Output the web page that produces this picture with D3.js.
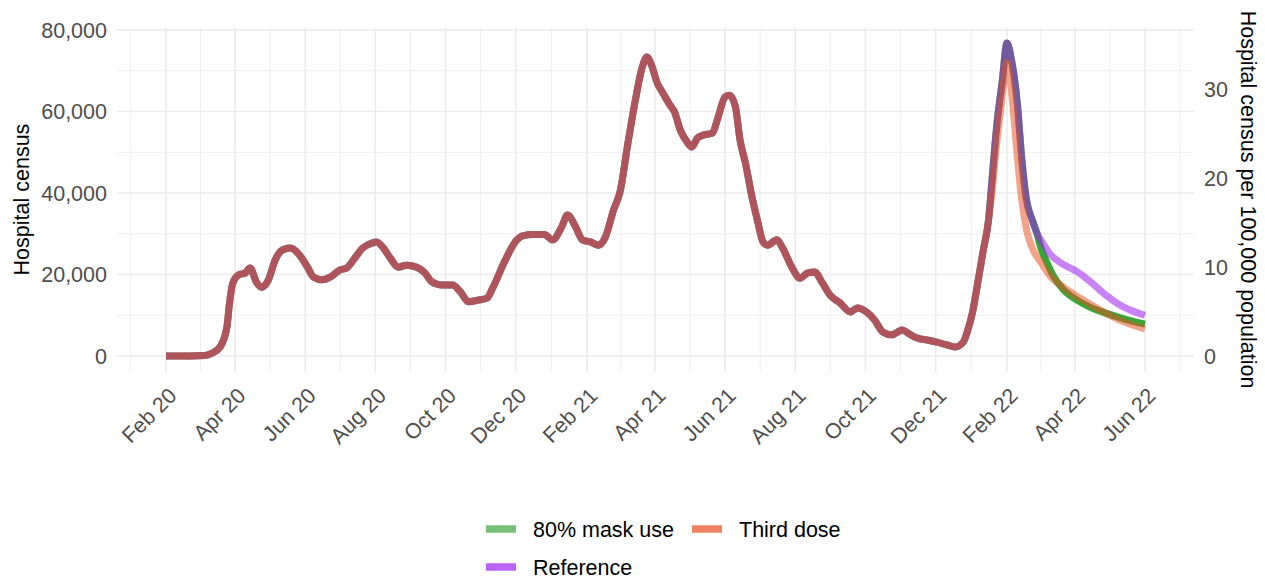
<!DOCTYPE html>
<html>
<head>
<meta charset="utf-8">
<script src="https://cdn.jsdelivr.net/npm/d3@7"></script>
<style>
  body { margin: 0; background: #fff; }
  text { font-family: "Liberation Sans", Arial, sans-serif; }
</style>
</head>
<body>
<svg id="chart" width="1265" height="581"></svg>
<script>
// observed hospital census (shared by every scenario)
const historyDates = ["2020-02-01","2020-02-22","2020-03-06","2020-03-12","2020-03-19","2020-03-25","2020-03-27","2020-03-30",
  "2020-04-04","2020-04-10","2020-04-14","2020-04-20","2020-04-24","2020-04-30","2020-05-06","2020-05-12","2020-05-19","2020-05-27",
  "2020-06-03","2020-06-08","2020-06-16","2020-06-23","2020-07-01","2020-07-07","2020-07-14","2020-07-21","2020-07-29","2020-08-02",
  "2020-08-08","2020-08-14","2020-08-21","2020-08-28","2020-09-06","2020-09-13","2020-09-19","2020-09-28","2020-10-07","2020-10-14",
  "2020-10-21","2020-10-29","2020-11-06","2020-11-11","2020-11-22","2020-12-02","2020-12-07","2020-12-16","2020-12-26","2021-01-02",
  "2021-01-10","2021-01-15","2021-01-22","2021-01-28","2021-02-04","2021-02-11","2021-02-17","2021-02-24","2021-03-02","2021-03-08",
  "2021-03-15","2021-03-21","2021-03-25","2021-03-29","2021-04-03","2021-04-08","2021-04-14","2021-04-18","2021-04-23","2021-04-29",
  "2021-05-03","2021-05-08","2021-05-13","2021-05-21","2021-05-26","2021-06-01","2021-06-05","2021-06-10","2021-06-14","2021-06-19",
  "2021-06-24","2021-06-29","2021-07-04","2021-07-08","2021-07-16","2021-07-21","2021-07-29","2021-08-05","2021-08-12","2021-08-18",
  "2021-08-24","2021-08-31","2021-09-09","2021-09-18","2021-09-24","2021-10-02","2021-10-09","2021-10-16","2021-10-24","2021-11-02",
  "2021-11-07","2021-11-15","2021-11-24","2021-12-02","2021-12-11","2021-12-18","2021-12-25","2021-12-29","2022-01-02","2022-01-06",
  "2022-01-11","2022-01-16"];
const historyCensus = [0,0,100,700,2200,7200,12500,17800,
  19900,20400,21600,17900,16900,18700,23600,26000,26500,24800,
  21800,19400,18700,19400,21100,21600,24000,26500,27700,28000,
  26500,24000,21800,22300,21800,20400,18200,17400,17400,15700,
  13300,13700,14200,16700,23600,28500,29500,29800,29800,28500,
  31700,34600,31700,28500,28000,27200,29200,35800,40700,51300,
  62800,70900,73400,71400,67000,64500,61600,59900,55500,52500,
  51300,53500,54200,54700,58700,63600,64000,61100,53000,46900,
  39500,33400,28000,27200,28500,26500,21800,19100,20400,20600,
  18200,15000,13000,10800,11800,10800,8800,5900,5200,6400,
  5600,4400,3900,3400,2700,2200,3400,6400,10600,16900,
  25300,33400];

// projections from mid-January 2022
const maskDates = ["2022-01-19","2022-01-23","2022-01-28","2022-02-01","2022-02-05","2022-02-10","2022-02-14","2022-02-18",
  "2022-02-23","2022-02-27","2022-03-02","2022-03-08","2022-03-14","2022-03-22","2022-04-03","2022-04-14","2022-04-29","2022-05-13","2022-06-01"];
const maskCensus = [43200,56200,67700,76800,72600,62100,48100,38300,
  33400,30200,27000,22800,19300,16300,13700,12000,10400,9200,7800];

const thirdDoseDates = ["2022-01-19","2022-01-23","2022-01-28","2022-01-30","2022-02-01","2022-02-03","2022-02-06","2022-02-10",
  "2022-02-14","2022-02-18","2022-02-23","2022-03-03","2022-03-10","2022-03-22","2022-04-05","2022-04-23","2022-05-10","2022-06-01"];
const thirdDoseCensus = [40000,52000,64000,69000,72000,69500,62000,49000,
  38000,31000,26500,22800,19800,16900,14300,11300,8800,6600];

const referenceDates = ["2022-01-19","2022-01-23","2022-01-28","2022-02-01","2022-02-05","2022-02-10","2022-02-14","2022-02-18",
  "2022-02-23","2022-02-27","2022-03-04","2022-03-10","2022-03-19","2022-03-28","2022-04-03","2022-04-11","2022-04-20","2022-04-29",
  "2022-05-08","2022-05-19","2022-06-01"];
const referenceCensus = [43200,56200,67700,76800,72600,62100,48100,38300,
  33400,30200,27800,25200,23000,21600,20700,19000,16900,14700,
  12900,11300,10000];

const xTickDates = ["2020-02-01","2020-04-01","2020-06-01","2020-08-01","2020-10-01","2020-12-01","2021-02-01",
  "2021-04-01","2021-06-01","2021-08-01","2021-10-01","2021-12-01","2022-02-01","2022-04-01","2022-06-01"];
const yTicks = [0, 20000, 40000, 60000, 80000];
const rightTicks = [0, 10, 20, 30];
const population = 218000000;

const legendLabels = ["80% mask use", "Third dose", "Reference"];

const parse = d3.utcParse("%Y-%m-%d");
const svg = d3.select("#chart");

const x = d3.scaleUtc()
  .domain([parse("2020-02-01"), parse("2022-06-01")])
  .range([166, 1145]);
const y = d3.scaleLinear().domain([0, 80000]).range([356, 30]);

// panel with ggplot-like 5% expansion
const span = x.domain()[1] - x.domain()[0];
const px0 = x(new Date(+x.domain()[0] - span * 0.05)), px1 = x(new Date(+x.domain()[1] + span * 0.05));
const py0 = y(-3840), py1 = y(80640);

const grid = svg.append("g");
const majorX = xTickDates.map(parse);
const extX = [d3.utcMonth.offset(majorX[0], -2), ...majorX, d3.utcMonth.offset(majorX[majorX.length - 1], 2)];
const minorX = d3.pairs(extX).map(([a, b]) => new Date((+a + +b) / 2)).filter(d => x(d) > px0 && x(d) < px1);

grid.selectAll(".minx").data(minorX).enter().append("line")
  .attr("x1", d => x(d)).attr("x2", d => x(d)).attr("y1", py0).attr("y2", py1)
  .attr("stroke", "#EBEBEB").attr("stroke-width", 0.8);
grid.selectAll(".miny").data([10000, 30000, 50000, 70000]).enter().append("line")
  .attr("x1", px0).attr("x2", px1).attr("y1", d => y(d)).attr("y2", d => y(d))
  .attr("stroke", "#EBEBEB").attr("stroke-width", 0.8);
grid.selectAll(".majx").data(majorX).enter().append("line")
  .attr("x1", d => x(d)).attr("x2", d => x(d)).attr("y1", py0).attr("y2", py1)
  .attr("stroke", "#EBEBEB").attr("stroke-width", 1.6);
grid.selectAll(".majy").data(yTicks).enter().append("line")
  .attr("x1", px0).attr("x2", px1).attr("y1", d => y(d)).attr("y2", d => y(d))
  .attr("stroke", "#EBEBEB").attr("stroke-width", 1.6);

// lines
const toPoints = (dates, vals) => dates.map((d, i) => ({date: parse(d), value: vals[i]}));
const history = toPoints(historyDates, historyCensus);
const series = [
  {name: legendLabels[0], color: "#2CA02C", alpha: 0.95, pts: history.concat(toPoints(maskDates, maskCensus))},
  {name: legendLabels[2], color: "#A020F0", alpha: 0.56, pts: history.concat(toPoints(referenceDates, referenceCensus))},
  {name: legendLabels[1], color: "#E84E1C", alpha: 0.52, pts: history.concat(toPoints(thirdDoseDates, thirdDoseCensus))}
];
const line = d3.line().x(d => x(d.date)).y(d => y(d.value)).curve(d3.curveMonotoneX);
svg.append("g").selectAll("path").data(series).enter().append("path")
  .attr("d", d => line(d.pts))
  .attr("fill", "none")
  .attr("stroke", d => d.color)
  .attr("stroke-opacity", d => d.alpha)
  .attr("stroke-width", 7)
  .attr("stroke-linejoin", "round");

// left axis
const fmt = d3.format(",");
svg.append("g").selectAll("text").data(yTicks).enter().append("text")
  .attr("x", 107).attr("y", d => y(d)).attr("dy", "0.36em")
  .attr("text-anchor", "end").attr("font-size", 21.5).attr("fill", "#4D4D4D")
  .text(d => fmt(d));
svg.append("text").attr("transform", `translate(29,${(py0 + py1) / 2}) rotate(-90)`)
  .attr("text-anchor", "middle").attr("font-size", 21.5).attr("fill", "#000")
  .text("Hospital census");

// right axis (per 100,000)
const yRight = d3.scaleLinear().domain(y.domain().map(v => v / population * 1e5)).range(y.range());
svg.append("g").selectAll("text").data(rightTicks).enter().append("text")
  .attr("x", 1204).attr("y", d => yRight(d)).attr("dy", "0.36em")
  .attr("text-anchor", "start").attr("font-size", 21.5).attr("fill", "#4D4D4D")
  .text(d => d);
svg.append("text").attr("transform", `translate(1241,${(py0 + py1) / 2}) rotate(90)`)
  .attr("text-anchor", "middle").attr("font-size", 21.5).attr("fill", "#000")
  .text("Hospital census per 100,000 population");

// x axis labels
const xfmt = d3.utcFormat("%b %y");
svg.append("g").selectAll("text").data(majorX).enter().append("text")
  .attr("transform", d => `translate(${x(d) + 12},397) rotate(-45)`)
  .attr("text-anchor", "end").attr("font-size", 21.5).attr("fill", "#4D4D4D")
  .text(d => xfmt(d));

// legend
const legendItems = [
  {label: legendLabels[0], color: "#2CA02C", alpha: 0.65, kx: 486, ky: 529},
  {label: legendLabels[1], color: "#E84E1C", alpha: 0.7, kx: 692, ky: 529},
  {label: legendLabels[2], color: "#A020F0", alpha: 0.7, kx: 486, ky: 567}
];
const lg = svg.append("g").selectAll("g").data(legendItems).enter().append("g");
lg.append("line")
  .attr("x1", d => d.kx).attr("x2", d => d.kx + 30).attr("y1", d => d.ky).attr("y2", d => d.ky)
  .attr("stroke", d => d.color).attr("stroke-opacity", d => d.alpha).attr("stroke-width", 7.5);
lg.append("text")
  .attr("x", d => d.kx + 47).attr("y", d => d.ky).attr("dy", "0.36em")
  .attr("font-size", 21.5).attr("fill", "#000")
  .text(d => d.label);
</script>
</body>
</html>
